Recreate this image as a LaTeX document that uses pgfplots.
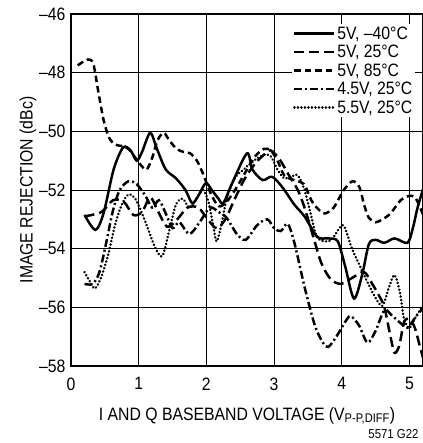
\documentclass[border=0pt]{standalone}
\usepackage{fontspec}
\setmainfont{Liberation Sans}[FakeStretch=0.88]
\usepackage{pgfplots}
\pgfplotsset{compat=1.18}
\begin{document}
\begin{tikzpicture}
\begin{axis}[name=ax, scale only axis, width=352bp, height=352bp,
  xmin=0, xmax=5.2, ymin=-58, ymax=-46,
  xtick={0,1,2,3,4,5}, xticklabels={0,1,2,3,4,5},
  ytick={-58,-56,-54,-52,-50,-48,-46},
  yticklabels={–58,–56,–54,–52,–50,–48,–46},
  grid=major, grid style={black, line width=0.8pt},
  axis line style={line width=1.3pt},
  major tick length=0pt,
  tick label style={font=\fontsize{18}{19}\selectfont},
  xticklabel style={yshift=-8bp},
  yticklabel style={xshift=-2bp},
  label style={font=\fontsize{18}{19}\selectfont},
  xlabel={I AND Q BASEBAND VOLTAGE (V\textsubscript{P-P,DIFF})},
  ylabel={IMAGE REJECTION (dBc)},
  xlabel style={yshift=-10bp},
  ylabel style={yshift=-4bp},
  legend style={draw=none, fill=white, at={(1,1)}, anchor=north east, xshift=-8bp, yshift=-10bp,
    font=\fontsize{18}{19}\selectfont, row sep=1.5bp, inner sep=1bp, nodes={inner sep=1.5bp}},
  legend cell align=left,
  legend image code/.code={\draw[#1] (0bp,0bp) -- (40bp,0bp);},
]
\addplot[black, line width=2.5pt, smooth] coordinates {
(0.2,-52.85)(0.36,-53.36)(0.48,-52.8)(0.63,-51.3)(0.77,-50.55)(0.88,-50.65)(0.97,-51.0)(1.05,-50.7)(1.17,-50.05)(1.27,-50.6)(1.4,-51.3)(1.55,-51.6)(1.69,-52.0)(1.79,-52.45)(1.88,-52.2)(1.99,-51.77)(2.08,-52.0)(2.18,-52.3)(2.25,-52.45)(2.38,-51.77)(2.6,-50.75)(2.68,-51.3)(2.83,-51.66)(2.97,-51.55)(3.12,-51.9)(3.3,-52.5)(3.45,-52.9)(3.64,-53.6)(3.8,-53.65)(3.94,-53.75)(4.05,-54.6)(4.18,-55.7)(4.3,-54.9)(4.4,-53.85)(4.5,-53.7)(4.63,-53.8)(4.78,-53.65)(4.97,-53.8)(5.05,-53.3)(5.12,-52.6)(5.21,-51.9)};
\addlegendentry{5V, –40°C}
\addplot[black, line width=2.5pt, smooth, dash pattern=on 10bp off 5bp] coordinates {
(0.2,-52.9)(0.45,-52.75)(0.62,-52.35)(0.78,-52.4)(0.92,-52.85)(1.05,-52.75)(1.17,-52.25)(1.28,-52.7)(1.42,-53.25)(1.57,-53.0)(1.72,-52.6)(1.88,-52.6)(2.02,-53.0)(2.15,-53.3)(2.28,-53.0)(2.42,-52.3)(2.57,-51.6)(2.72,-51.1)(2.85,-50.8)(2.95,-50.65)(3.08,-50.95)(3.22,-51.5)(3.35,-52.0)(3.45,-52.6)(3.58,-53.6)(3.7,-54.5)(3.84,-55.05)(3.99,-55.2)(4.15,-55.0)(4.33,-54.8)(4.45,-55.2)(4.55,-55.6)(4.63,-56.0)(4.72,-57.0)(4.78,-57.55)(4.85,-57.3)(4.92,-56.5)(5.0,-56.4)(5.08,-56.7)(5.15,-57.3)(5.21,-57.8)};
\addlegendentry{5V, 25°C}
\addplot[black, line width=2.5pt, smooth, dash pattern=on 6.5bp off 4bp] coordinates {
(0.1,-47.75)(0.25,-47.55)(0.33,-47.7)(0.4,-48.6)(0.48,-49.6)(0.56,-50.2)(0.65,-50.45)(0.75,-50.5)(0.85,-50.6)(0.95,-50.9)(1.05,-51.2)(1.12,-51.3)(1.2,-50.9)(1.28,-50.3)(1.37,-50.05)(1.45,-50.3)(1.56,-50.6)(1.66,-50.7)(1.76,-50.75)(1.86,-51.0)(1.96,-51.5)(2.06,-52.1)(2.18,-52.55)(2.3,-52.4)(2.45,-51.9)(2.6,-51.3)(2.72,-50.85)(2.85,-50.6)(2.95,-50.65)(3.05,-51.0)(3.15,-51.5)(3.28,-51.65)(3.44,-51.8)(3.55,-52.35)(3.65,-52.65)(3.75,-52.8)(3.88,-52.6)(4.03,-52.0)(4.16,-51.7)(4.26,-51.9)(4.33,-52.5)(4.4,-52.95)(4.5,-53.1)(4.6,-53.0)(4.72,-52.8)(4.87,-52.35)(5.0,-52.2)(5.08,-52.25)(5.14,-52.5)(5.21,-52.9)};
\addlegendentry{5V, 85°C}
\addplot[black, line width=2.5pt, smooth, dash pattern=on 8bp off 3bp on 2bp off 3bp] coordinates {
(0.2,-55.2)(0.32,-55.2)(0.42,-54.8)(0.52,-53.8)(0.62,-52.7)(0.72,-52.0)(0.85,-51.7)(0.97,-51.8)(1.1,-52.2)(1.2,-52.6)(1.3,-52.35)(1.4,-52.8)(1.5,-53.3)(1.6,-53.1)(1.75,-53.5)(1.9,-53.1)(2.05,-52.6)(2.18,-52.75)(2.3,-52.95)(2.45,-53.5)(2.58,-53.7)(2.75,-53.2)(2.9,-53.0)(3.0,-53.3)(3.1,-53.4)(3.2,-53.15)(3.3,-53.8)(3.45,-55.3)(3.6,-56.6)(3.72,-57.2)(3.8,-57.35)(3.92,-57.0)(4.05,-56.5)(4.13,-56.3)(4.25,-56.6)(4.38,-57.2)(4.5,-56.8)(4.63,-56.1)(4.75,-56.3)(4.9,-56.6)(4.97,-56.7)(5.1,-56.3)(5.21,-56.0)};
\addlegendentry{4.5V, 25°C}
\addplot[black, line width=2.7pt, smooth, line cap=round, dash pattern=on 0.1bp off 3.4bp] coordinates {
(0.2,-54.8)(0.3,-55.2)(0.36,-55.35)(0.45,-54.95)(0.55,-54.2)(0.65,-53.2)(0.75,-52.5)(0.85,-52.15)(0.95,-52.3)(1.05,-52.8)(1.15,-53.4)(1.25,-54.0)(1.35,-54.25)(1.45,-53.4)(1.55,-52.5)(1.65,-52.3)(1.75,-52.6)(1.85,-52.3)(1.95,-52.0)(2.03,-52.4)(2.1,-53.2)(2.15,-53.75)(2.22,-53.2)(2.3,-52.3)(2.42,-51.6)(2.55,-51.3)(2.7,-51.0)(2.85,-50.8)(2.95,-50.85)(3.05,-51.3)(3.15,-51.6)(3.25,-51.55)(3.35,-51.5)(3.45,-52.0)(3.55,-52.9)(3.63,-53.6)(3.75,-53.75)(3.85,-53.7)(3.95,-53.35)(4.02,-53.2)(4.08,-53.5)(4.15,-54.0)(4.25,-54.5)(4.33,-54.9)(4.48,-55.6)(4.6,-55.95)(4.7,-55.3)(4.78,-54.9)(4.86,-55.5)(4.92,-56.4)(5.0,-56.7)(5.1,-56.3)(5.21,-55.9)};
\addlegendentry{5.5V, 25°C}
\end{axis}
\node[anchor=south east, font=\fontsize{13}{14}\selectfont] at ([xshift=-1bp,yshift=-76bp]ax.south east) {5571 G22};
\pgfresetboundingbox
\path[use as bounding box] ([xshift=-71bp,yshift=-77bp]ax.south west) rectangle ([yshift=14bp]ax.north east);
\end{tikzpicture}
\end{document}
